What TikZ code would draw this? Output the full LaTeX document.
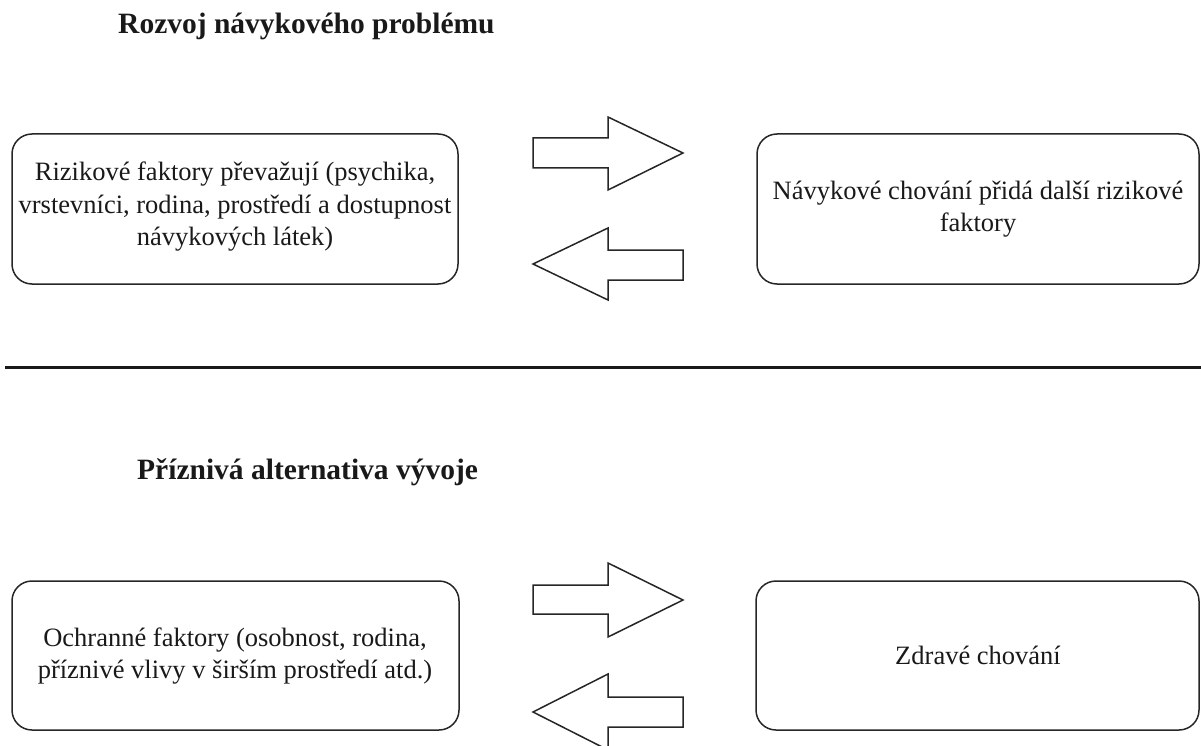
\documentclass[tikz,border=0pt]{standalone}
\usepackage{fontspec}
\setmainfont{Liberation Serif}
\tikzset{
  x=1pt, y=-1pt,
  box/.style={draw=black!85, line width=1.5pt, rounded corners=20pt},
  boxtext/.style={align=center, inner sep=0pt, font=\fontsize{26.5}{32.5}\selectfont, text=black!90},
  title/.style={anchor=base west, inner sep=0pt, font=\bfseries\fontsize{29.5}{35}\selectfont, text=black!90},
  blockarrow/.style={draw=black!85, line width=1.5pt, fill=white, line join=miter}
}
\begin{document}
\begin{tikzpicture}
\useasboundingbox (0,0) rectangle (1201,746);
% titles
\node[title] (t1) at (118,34) {Rozvoj návykového problému};
\node[title] (t2) at (137,479) {Příznivá alternativa vývoje};
% boxes
\draw[box] (12,134) rectangle (458,284);
\node[boxtext] (a) at (235,207)
  {Rizikové faktory převažují (psychika,\\vrstevníci, rodina, prostředí a dostupnost\\návykových látek)};
\draw[box] (757,134) rectangle (1199,284);
\node[boxtext] (b) at (978,209)
  {Návykové chování přidá další rizikové\\faktory};
\draw[box] (12,581) rectangle (459,730);
\node[boxtext] (c) at (235,656)
  {Ochranné faktory (osobnost, rodina,\\příznivé vlivy v širším prostředí atd.)};
\draw[box] (756,581) rectangle (1199,730);
\node[boxtext] (d) at (978,655)
  {Zdravé chování};
% separator
\draw[line width=3pt, black!90] (5,367) -- (1201,367);
% block arrows top
\draw[blockarrow] (533,138) -- (608,138) -- (608,117) -- (683,153) -- (608,190) -- (608,168) -- (533,168) -- cycle;
\draw[blockarrow] (683,250) -- (608,250) -- (608,228) -- (533,264) -- (608,300) -- (608,280) -- (683,280) -- cycle;
% block arrows bottom
\draw[blockarrow] (533,585) -- (608,585) -- (608,563) -- (683,600) -- (608,637) -- (608,614) -- (533,614) -- cycle;
\draw[blockarrow] (683,697) -- (608,697) -- (608,674) -- (533,712) -- (608,750) -- (608,727) -- (683,727) -- cycle;
\end{tikzpicture}
\end{document}
